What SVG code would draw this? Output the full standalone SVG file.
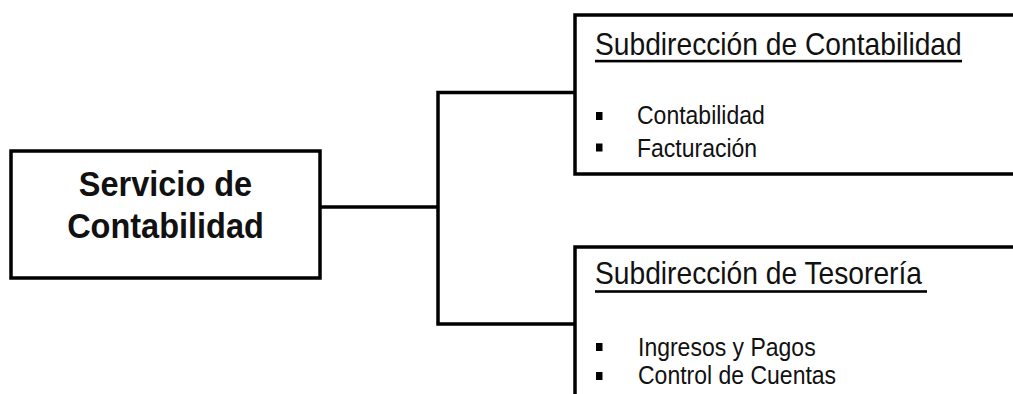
<svg xmlns="http://www.w3.org/2000/svg" width="1013" height="394" viewBox="0 0 1013 394">
  <style>
    .box { fill: #ffffff; stroke: #000000; stroke-width: 3.5; }
    .wire { fill: none; stroke: #000000; stroke-width: 3.5; stroke-linejoin: miter; }
    .main { font-family: "Liberation Sans", Arial, sans-serif; font-weight: bold; font-size: 32.5px; fill: #111111; text-anchor: middle; }
    .head { font-family: "Liberation Sans", Arial, sans-serif; font-size: 28.2px; fill: #111111; }
    .item { font-family: "Liberation Sans", Arial, sans-serif; font-size: 23px; fill: #111111; }
    .rule { fill: #000000; }
    .dot { fill: #000000; }
  </style>

  <rect width="1013" height="394" fill="#ffffff"/>

  <!-- tree connectors -->
  <g id="connectors">
    <path class="wire" d="M320 207 H438"/>
    <path class="wire" d="M575 92.5 H438 V324 H575"/>
  </g>

  <!-- root unit -->
  <g id="servicio">
    <rect class="box" x="11" y="151" width="309" height="127"/>
    <text class="main" transform="translate(165.5 196) scale(1 1.09)">Servicio de</text>
    <text class="main" transform="translate(165.5 238) scale(1 1.09)">Contabilidad</text>
  </g>

  <!-- upper sub-unit -->
  <g id="sub-contabilidad">
    <rect class="box" x="575" y="15" width="460" height="159"/>
    <text class="head" transform="translate(595 55) scale(1 1.09)">Subdirección de Contabilidad</text>
    <rect class="rule" x="595" y="59.8" width="367" height="2.6"/>
    <rect class="dot" x="596" y="112" width="6.5" height="8"/>
    <text class="item" transform="translate(637 124) scale(1 1.09)">Contabilidad</text>
    <rect class="dot" x="596" y="143.5" width="6.5" height="8"/>
    <text class="item" transform="translate(637 157) scale(1 1.09)">Facturación</text>
  </g>

  <!-- lower sub-unit -->
  <g id="sub-tesoreria">
    <rect class="box" x="575" y="247" width="460" height="180"/>
    <text class="head" transform="translate(595 284) scale(1 1.09)">Subdirección de Tesorería</text>
    <rect class="rule" x="595" y="290.2" width="332" height="2.6"/>
    <rect class="dot" x="596" y="343" width="6.5" height="8"/>
    <text class="item" transform="translate(638 356) scale(1 1.09)">Ingresos y Pagos</text>
    <rect class="dot" x="596" y="372" width="6.5" height="8"/>
    <text class="item" transform="translate(638 383.5) scale(1 1.09)">Control de Cuentas</text>
  </g>
</svg>
